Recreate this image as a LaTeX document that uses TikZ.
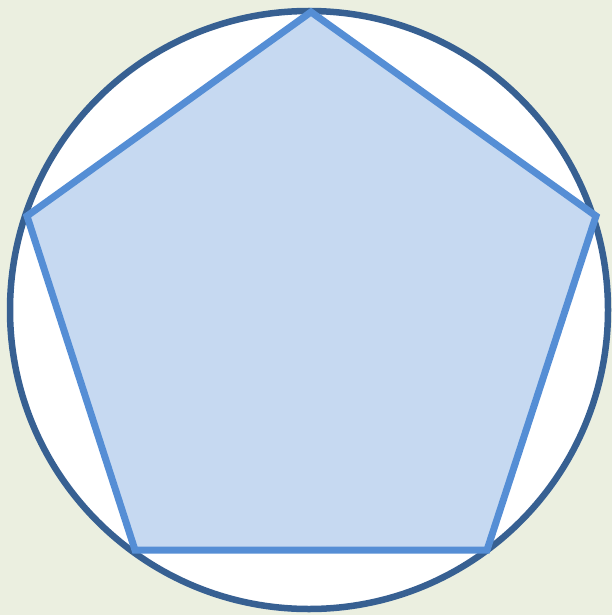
\documentclass[tikz,border=0pt]{standalone}
\definecolor{bgc}{HTML}{EBEFE0}
\definecolor{ringc}{HTML}{376092}
\definecolor{pentfill}{HTML}{C6D9F1}
\definecolor{pentline}{HTML}{558ED5}
\begin{document}
\begin{tikzpicture}[x=1pt,y=-1pt,
  ring/.style={draw=ringc,line width=6.5pt,fill=white},
  pent/.style={draw=pentline,fill=pentfill,line width=7pt,line join=miter}]
\fill[bgc] (0,0) rectangle (612,615);
\useasboundingbox (0,0) rectangle (612,615);
\draw[ring] (309,310) circle[radius=299];
\coordinate (t) at (311,12);
\coordinate (r) at (596,216);
\coordinate (br) at (487,550);
\coordinate (bl) at (135,550);
\coordinate (l) at (27,216);
\draw[pent] (t) -- (r) -- (br) -- (bl) -- (l) -- cycle;
\end{tikzpicture}
\end{document}
